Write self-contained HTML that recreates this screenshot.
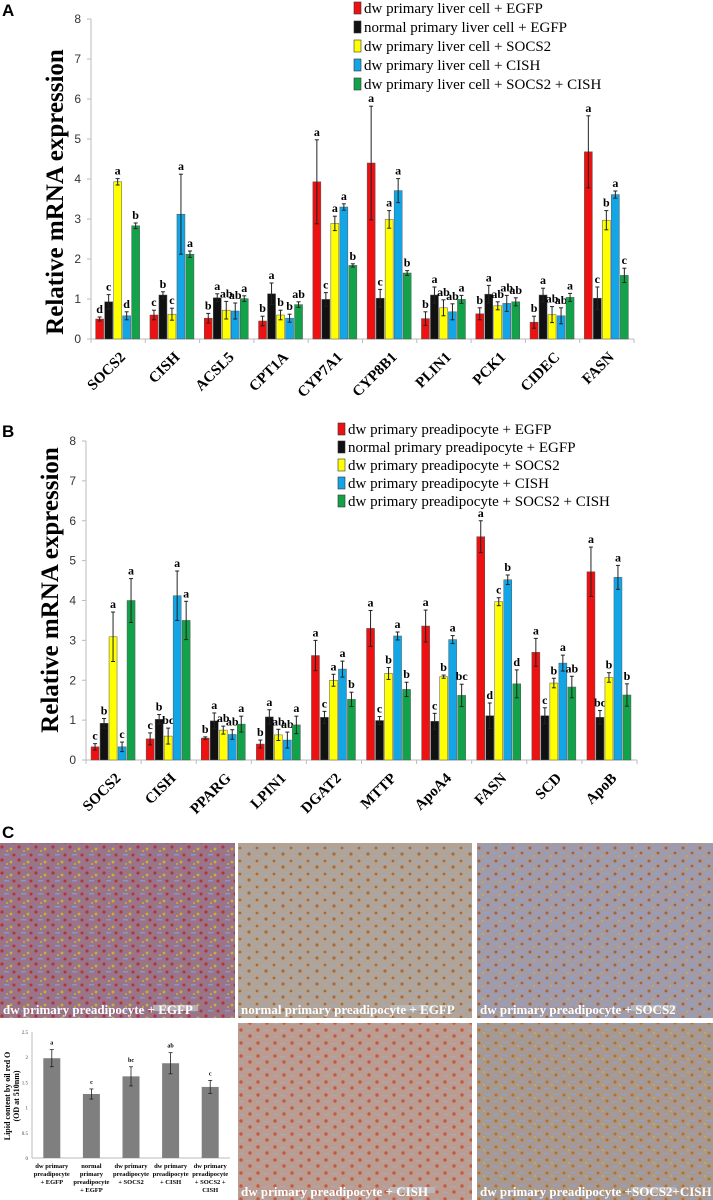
<!DOCTYPE html>
<html><head><meta charset="utf-8"><style>
html,body{margin:0;padding:0;background:#fff;}
svg{display:block;}
text{font-family:"Liberation Serif",serif;}
</style></head><body>
<svg id="fig" width="713" height="1200" viewBox="0 0 713 1200" xmlns="http://www.w3.org/2000/svg">
<defs>
<pattern id="tex1" width="17" height="13" patternUnits="userSpaceOnUse"><rect width="17" height="13" fill="#9a7488"/><circle cx="2" cy="2" r="1.6" fill="#b5343a"/><circle cx="11" cy="4" r="1.4" fill="#c9b030"/><rect x="4" y="9" width="5" height="1.5" fill="#8a95c8"/><circle cx="14" cy="10" r="1.5" fill="#b5343a"/><circle cx="7" cy="6" r="1" fill="#c9b030"/></pattern>
<pattern id="tex2" width="17" height="13" patternUnits="userSpaceOnUse"><rect width="17" height="13" fill="#b1a395"/><circle cx="2" cy="3" r="1.4" fill="#a86a3a"/><circle cx="11" cy="9" r="1.6" fill="#a86a3a"/><rect x="7" y="4" width="6" height="1.4" fill="#9faac0"/><rect x="1" y="10" width="5" height="1.4" fill="#9faac0"/></pattern>
<pattern id="tex3" width="17" height="13" patternUnits="userSpaceOnUse"><rect width="17" height="13" fill="#a29aa4"/><circle cx="3" cy="3" r="1.5" fill="#a8603a"/><circle cx="12" cy="8" r="1.4" fill="#a8603a"/><circle cx="7" cy="11" r="1" fill="#c8b040"/><rect x="8" y="2" width="6" height="1.6" fill="#8ea0d0"/><rect x="0" y="7" width="5" height="1.5" fill="#8ea0d0"/></pattern>
<pattern id="tex4" width="17" height="13" patternUnits="userSpaceOnUse"><rect width="17" height="13" fill="#bd9c90"/><circle cx="3" cy="3" r="1.7" fill="#c05a48"/><circle cx="12" cy="9" r="1.7" fill="#c05a48"/><rect x="8" y="3" width="6" height="1.4" fill="#a8a8b8"/><rect x="1" y="9" width="5" height="1.4" fill="#a8a8b8"/></pattern>
<pattern id="tex5" width="17" height="13" patternUnits="userSpaceOnUse"><rect width="17" height="13" fill="#a8988e"/><circle cx="3" cy="3" r="1.5" fill="#b07030"/><circle cx="12" cy="9" r="1.5" fill="#b07030"/><circle cx="8" cy="6" r="1" fill="#c8b040"/><rect x="9" y="2" width="6" height="1.4" fill="#90a0d0"/><rect x="0" y="9" width="5" height="1.4" fill="#90a0d0"/></pattern>
</defs>
<text x="2" y="16" font-weight="bold" font-size="17" style="font-family:'Liberation Sans',sans-serif">A</text>
<text x="2" y="437" font-weight="bold" font-size="17" style="font-family:'Liberation Sans',sans-serif">B</text>
<text x="2" y="838" font-weight="bold" font-size="17" style="font-family:'Liberation Sans',sans-serif">C</text>
<g id="chartA"></g>
<g id="chartB"></g>
<g id="micro"></g>
<g id="chartC"></g>
</svg>
<script>
const NS="http://www.w3.org/2000/svg";
const colors=["#ee1111","#111111","#ffff00","#12a6e6","#12a34a"];
// Panel A data
const catsA=["SOCS2","CISH","ACSL5","CPT1A","CYP7A1","CYP8B1","PLIN1","PCK1","CIDEC","FASN"];
const legendA=["dw primary liver cell + EGFP","normal primary liver cell + EGFP","dw primary liver cell + SOCS2","dw primary liver cell + CISH","dw primary liver cell + SOCS2 + CISH"];
const valsA=[[.5,.93,3.93,.58,2.83],[.6,1.1,.62,3.12,2.12],[.52,1.03,.72,.7,1.01],[.45,1.13,.6,.52,.86],[3.93,.99,2.89,3.3,1.84],[4.4,1.02,2.99,3.71,1.65],[.51,1.1,.78,.68,.99],[.63,1.12,.83,.89,.93],[.42,1.1,.61,.58,1.04],[4.68,1.02,2.97,3.61,1.59]];
const errA=[[.05,.18,.08,.1,.07],[.12,.08,.15,1.0,.08],[.12,.1,.22,.2,.07],[.12,.27,.12,.1,.07],[1.05,.17,.18,.08,.04],[1.42,.22,.22,.3,.06],[.17,.2,.2,.2,.1],[.15,.22,.1,.2,.1],[.15,.17,.2,.2,.1],[.9,.28,.24,.09,.18]];
const letA=[["d","c","a","d","b"],["c","b","c","a","a"],["b","a","ab","ab","a"],["b","a","b","b","ab"],["a","c","a","a","b"],["a","c","a","a","b"],["b","a","ab","ab","a"],["b","a","ab","ab","ab"],["b","a","ab","ab","a"],["a","c","b","a","c"]];
// Panel B data
const catsB=["SOCS2","CISH","PPARG","LPIN1","DGAT2","MTTP","ApoA4","FASN","SCD","ApoB"];
const legendB=["dw primary preadipocyte + EGFP","normal primary preadipocyte + EGFP","dw primary preadipocyte + SOCS2","dw primary preadipocyte + CISH","dw primary preadipocyte + SOCS2 + CISH"];
const valsB=[[.33,.92,3.09,.33,4.0],[.53,1.02,.6,4.12,3.5],[.55,.98,.75,.64,.9],[.4,1.08,.63,.5,.88],[2.62,1.07,2.0,2.28,1.52],[3.3,.99,2.17,3.11,1.77],[3.36,.97,2.09,3.02,1.62],[5.6,1.11,3.97,4.52,1.91],[2.7,1.11,1.93,2.43,1.83],[4.72,1.07,2.07,4.58,1.63]];
const errB=[[.08,.12,.62,.12,.55],[.15,.12,.2,.62,.48],[.03,.2,.1,.12,.2],[.1,.18,.14,.2,.22],[.38,.15,.15,.2,.18],[.45,.1,.15,.1,.18],[.4,.2,.04,.1,.28],[.4,.32,.1,.12,.35],[.35,.2,.12,.2,.27],[.62,.17,.12,.3,.28]];
const letB=[["c","b","a","c","a"],["c","b","bc","a","a"],["b","a","ab","ab","a"],["b","a","ab","ab","a"],["a","c","a","a","b"],["a","c","b","a","b"],["a","c","b","a","bc"],["a","d","c","b","d"],["a","c","b","a","ab"],["a","bc","b","a","b"]];
// Panel C bar chart data
const catsC=[["dw primary","preadipocyte","+ EGFP"],["normal","primary","preadipocyte","+ EGFP"],["dw primary","preadipocyte","+ SOCS2"],["dw primary","preadipocyte","+ CISH"],["dw primary","preadipocyte","+ SOCS2 +","CISH"]];
const valsC=[1.98,1.27,1.62,1.88,1.41];
const errC=[.17,.1,.19,.21,.13];
const letC=["a","c","bc","ab","c"];
const ticksC=["0","0.5","1","1.5","2","2.5"];
const ticksAB=[0,1,2,3,4,5,6,7,8];

function el(tag,attrs,parent,txt){const e=document.createElementNS(NS,tag);for(const k in attrs)e.setAttribute(k,attrs[k]);if(txt!==undefined)e.textContent=txt;parent.appendChild(e);return e;}

function groupChart(g,cats,vals,errs,lets,legend,o){
  const y=v=>o.y0-(v/8)*(o.y0-o.y8);
  const gw=(o.x1-o.x0)/cats.length;
  const bw=o.bw;
  el('line',{x1:o.x0,y1:o.y8,x2:o.x0,y2:o.y0,stroke:'#bbb'},g);
  el('line',{x1:o.x0,y1:o.y0,x2:o.x1,y2:o.y0,stroke:'#bbb'},g);
  ticksAB.forEach(t=>{
    el('line',{x1:o.x0-4,y1:y(t),x2:o.x0,y2:y(t),stroke:'#bbb'},g);
    const tl=el('text',{x:o.x0-10,y:y(t)+4,'text-anchor':'end','font-size':12,fill:'#333',style:"font-family:'Liberation Sans',sans-serif"},g,String(t));
    
    
  });
  for(let i=0;i<=cats.length;i++){el('line',{x1:o.x0+i*gw,y1:o.y0,x2:o.x0+i*gw,y2:o.y0+4,stroke:'#bbb'},g);}
  const yt=el('text',{transform:`translate(${o.tx},${o.ty}) rotate(-90)`,'text-anchor':'middle','font-size':25,'font-weight':'bold'},g,'Relative mRNA expression');
  
  
  cats.forEach((c,i)=>{
    const gx=o.x0+i*gw+(gw-5*bw)/2;
    vals[i].forEach((v,j)=>{
      const x=gx+j*bw;
      const r=el('rect',{x:x,y:y(v),width:bw-1,height:o.y0-y(v),fill:colors[j],stroke:'#555','stroke-width':0.5},g);
      
      
      const cx=x+(bw-1)/2,e=errs[i][j];
      el('line',{x1:cx,y1:y(v+e),x2:cx,y2:y(Math.max(0,v-e)),stroke:'#222','stroke-width':1},g);
      el('line',{x1:cx-2,y1:y(v+e),x2:cx+2,y2:y(v+e),stroke:'#222'},g);
      el('line',{x1:cx-2,y1:y(v-e),x2:cx+2,y2:y(v-e),stroke:'#222'},g);
      const lt=el('text',{x:cx,y:y(v+e)-4,'text-anchor':'middle','font-size':12,'font-weight':'bold'},g,lets[i][j]);
      
      
    });
    const xl=el('text',{transform:`translate(${o.x0+i*gw+gw/2+8},${o.y0+19}) rotate(-45)`,'text-anchor':'end','font-size':15,'font-weight':'bold'},g,c);
    
    
  });
  legend.forEach((t,j)=>{
    const ly=o.ly+j*o.ls;
    const s=el('rect',{x:o.lx,y:ly-6,width:7,height:12,fill:colors[j],stroke:'#333','stroke-width':0.6},g);
    
    
    const lt=el('text',{x:o.lx+10,y:ly+5,'font-size':15},g,t);
    
    
  });
}
groupChart(document.getElementById('chartA'),catsA,valsA,errA,letA,legendA,{x0:91,x1:634,y0:339,y8:19,bw:9,tx:63,ty:192,lx:354,ly:8,ls:19});
groupChart(document.getElementById('chartB'),catsB,valsB,errB,letB,legendB,{x0:86,x1:637,y0:760,y8:441,bw:9,tx:58,ty:590,lx:338,ly:429,ls:18});

// micrographs
const micro=document.getElementById('micro');
const imgs=[[0,843,235,175,'tex1','dw primary preadipocyte + EGFP'],[238,843,234,175,'tex2','normal primary preadipocyte + EGFP'],[477,843,236,175,'tex3','dw primary preadipocyte + SOCS2'],[238,1023,234,177,'tex4','dw primary preadipocyte + CISH'],[477,1023,236,177,'tex5','dw primary preadipocyte +SOCS2+CISH']];
imgs.forEach((m,k)=>{
  const r=el('rect',{x:m[0],y:m[1],width:m[2],height:m[3],fill:`url(#${m[4]})`},micro);
  
  
  el('rect',{x:m[0]+m[2]-82,y:m[1]+m[3]-13,width:45,height:6,fill:'#bbb',opacity:0.8},micro);
  const t=el('text',{x:m[0]+3,y:m[1]+m[3]-4,'font-size':13,'font-weight':'bold',fill:'#fff'},micro,m[5]);
  
  
});

// panel C small chart
const gc=document.getElementById('chartC');
const cy0=1158,cy1=1032,cx0=32,cx1=230;
const yC=v=>cy0-(v/2.5)*(cy0-cy1);
el('line',{x1:cx0,y1:cy1,x2:cx0,y2:cy0,stroke:'#bbb'},gc);
el('line',{x1:cx0,y1:cy0,x2:cx1,y2:cy0,stroke:'#bbb'},gc);
ticksC.forEach(t=>{
  const tt=el('text',{x:cx0-4,y:yC(parseFloat(t))+2,'text-anchor':'end','font-size':5,fill:'#444'},gc,t);
  
  
});
const yt=el('text',{transform:'translate(10,1096) rotate(-90)','text-anchor':'middle','font-size':8,'font-weight':'bold'},gc);


el('tspan',{x:0,dy:0},yt,'Lipid content by oil red O');
el('tspan',{x:0,dy:9},yt,'(OD at 510nm)');
const cw=(cx1-cx0)/valsC.length;
valsC.forEach((v,i)=>{
  const cx=cx0+cw*i+cw/2;
  const r=el('rect',{x:cx-8.5,y:yC(v),width:17,height:cy0-yC(v),fill:'#7f7f7f'},gc);
  
  
  el('line',{x1:cx,y1:yC(v+errC[i]),x2:cx,y2:yC(v-errC[i]),stroke:'#222','stroke-width':0.8},gc);
  el('line',{x1:cx-2,y1:yC(v+errC[i]),x2:cx+2,y2:yC(v+errC[i]),stroke:'#222','stroke-width':0.8},gc);
  el('line',{x1:cx-2,y1:yC(v-errC[i]),x2:cx+2,y2:yC(v-errC[i]),stroke:'#222','stroke-width':0.8},gc);
  const l=el('text',{x:cx,y:yC(v+errC[i])-5,'text-anchor':'middle','font-size':6,'font-weight':'bold'},gc,letC[i]);
  
  
  const xl=el('text',{x:cx,y:cy0+10,'text-anchor':'middle','font-size':6.5,'font-weight':'bold'},gc);
  
  
  catsC[i].forEach((s,k)=>el('tspan',{x:cx,dy:k?8:0},xl,s));
});
</script>
</body></html>
